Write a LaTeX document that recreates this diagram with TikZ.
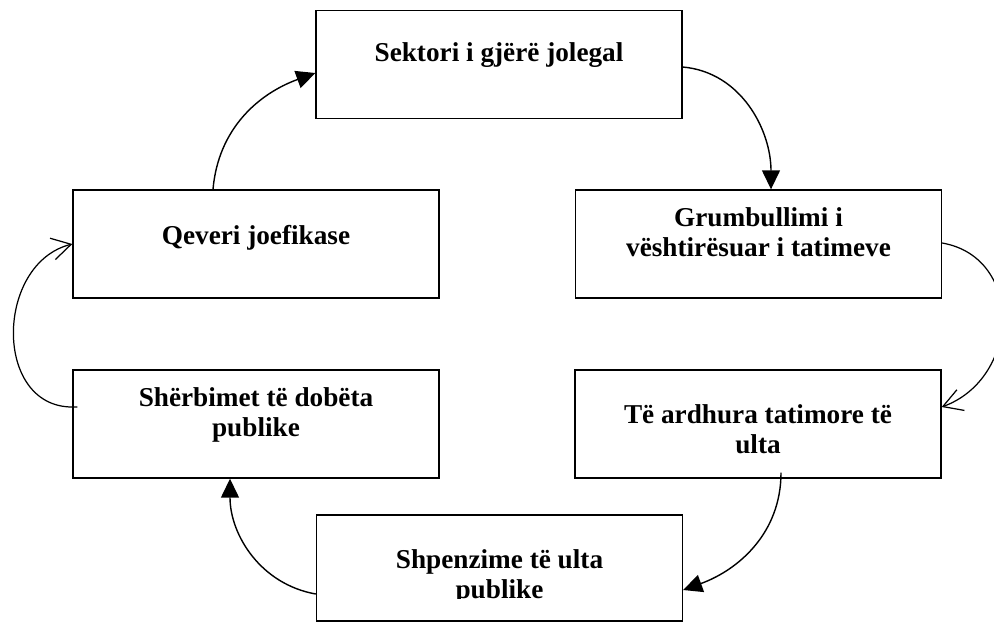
\documentclass[tikz,border=0pt]{standalone}
\usepackage{fontspec}
\setmainfont{Liberation Serif}
\usetikzlibrary{arrows.meta,calc}

\begin{document}
\begin{tikzpicture}[x=0.02cm, y=0.02cm,
    box/.style={draw, line width=0.8pt, minimum width=7.32cm, minimum height=2.16cm, inner sep=0pt},
    lbl/.style={anchor=base, align=center, inner sep=0pt, font=\bfseries\fontsize{15.5}{17}\selectfont},
    solidtip/.style={line width=0.8pt, -{Triangle[length=0.38cm, width=0.36cm]}},
    opentip/.style={line width=0.7pt, -{Straight Barb[length=0.38cm, width=0.44cm]}}]
    \useasboundingbox (0,0) rectangle (994,-623);

    % the six boxes
    \node[box] (sektor) at (499,-64.5) {};
    \node[box] (qeveri) at (256,-244) {};
    \node[box] (grumb)  at (758.5,-244) {};
    \node[box] (sherb)  at (256,-424) {};
    \node[box] (ardhura) at (758,-424) {};
    \node[box, minimum height=2.12cm] (shpenz) at (499.5,-568) {};

    % base of a two-line label is its last line
    \node[lbl] (sektortxt) at ($(sektor.north)+(0,-52)$) {Sektori i gjërë jolegal};
    \node[lbl] (qeveritxt) at ($(qeveri.north)+(0,-55)$) {Qeveri joefikase};
    \node[lbl] (grumbtxt)  at ($(grumb.north)+(0,-67)$) {Grumbullimi i\\vështirësuar i tatimeve};
    \node[lbl] (sherbtxt)  at ($(sherb.north)+(0,-67)$) {Shërbimet të dobëta\\publike};

    % these two texts run past their frame
    \begin{scope}
        \clip (ardhura.north west) rectangle ($(ardhura.south east)+(0,24)$);
        \node[lbl] (ardhuratxt) at ($(ardhura.north)+(0,-84)$) {Të ardhura tatimore të\\ulta};
    \end{scope}
    \begin{scope}
        \clip (shpenz.north west) rectangle ($(shpenz.south east)+(0,23)$);
        \node[lbl] (shpenztxt) at ($(shpenz.north)+(0,-84)$) {Shpenzime të ulta\\publike};
    \end{scope}

    % the cycle
    \draw[solidtip] ($(qeveri.north)+(-43,0)$) to[out=85, in=200] ($(sektor.west)+(0,-8.5)$);
    \draw[solidtip] ($(sektor.east)+(0,-2.5)$) to[out=-5, in=90] ($(grumb.north)+(12.5,0)$);
    \draw[opentip] ($(grumb.east)+(0,1)$) to[out=-10, in=20, looseness=1.3] ($(ardhura.east)+(0,17)$);
    \draw[solidtip] ($(ardhura.south)+(23,6)$) to[out=-90, in=20] ($(shpenz.east)+(0,-22)$);
    \draw[solidtip] ($(shpenz.west)+(0,-26)$) to[out=170, in=-90] ($(sherb.south)+(-26,0)$);
    \draw[opentip] ($(sherb.west)+(5,17)$) -- ++(-5,0) to[out=180, in=194, looseness=1.25] (qeveri.west);
\end{tikzpicture}
\end{document}
